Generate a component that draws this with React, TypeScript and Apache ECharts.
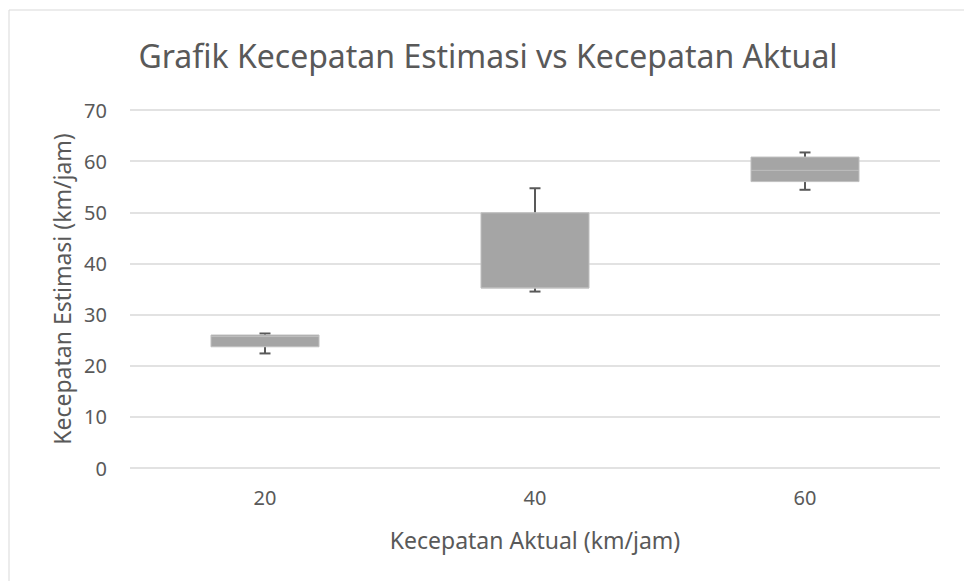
import React, { useEffect, useRef } from "react";
import * as echarts from "echarts";

const categories = ["20", "40", "60"];
// [min, Q1, median, Q3, max]
const minValues = [22.4, 34.5, 54.4];
const q1Values = [23.7, 35.2, 56.0];
const medianValues = [25.7, 35.2, 58.2];
const q3Values = [26.0, 49.9, 60.8];
const maxValues = [26.3, 54.7, 61.7];
const yTicks = { min: 0, max: 70, interval: 10 };

const TEXT = "#595959";
const FONT = "'Noto Sans', 'Open Sans', sans-serif";

export default function App() {
  const ref = useRef<HTMLDivElement>(null);
  useEffect(() => {
    if (!ref.current) return;
    const chart = echarts.init(ref.current, undefined, { renderer: "svg" });
    const data = categories.map((_, i) => [
      i,
      minValues[i],
      q1Values[i],
      medianValues[i],
      q3Values[i],
      maxValues[i],
    ]);
    const renderItem = (params: any, api: any) => {
      const idx = api.value(0);
      const pMin = api.coord([idx, api.value(1)]);
      const pQ1 = api.coord([idx, api.value(2)]);
      const pMed = api.coord([idx, api.value(3)]);
      const pQ3 = api.coord([idx, api.value(4)]);
      const pMax = api.coord([idx, api.value(5)]);
      const band = api.size([1, 0])[0];
      const w = band * 0.4;
      const cx = pQ1[0];
      const cap = 5.5;
      const whisker = { stroke: "#595959", lineWidth: 2 };
      return {
        type: "group",
        children: [
          {
            type: "line",
            shape: { x1: cx, y1: pQ3[1], x2: cx, y2: pMax[1] },
            style: whisker,
          },
          {
            type: "line",
            shape: { x1: cx - cap, y1: pMax[1], x2: cx + cap, y2: pMax[1] },
            style: whisker,
          },
          {
            type: "line",
            shape: { x1: cx, y1: pQ1[1], x2: cx, y2: pMin[1] },
            style: whisker,
          },
          {
            type: "line",
            shape: { x1: cx - cap, y1: pMin[1], x2: cx + cap, y2: pMin[1] },
            style: whisker,
          },
          {
            type: "rect",
            shape: { x: cx - w / 2, y: pQ3[1], width: w, height: pQ1[1] - pQ3[1] },
            style: { fill: "#a5a5a5", stroke: "#bfbfbf", lineWidth: 1 },
          },
          {
            type: "line",
            shape: { x1: cx - w / 2, y1: pMed[1], x2: cx + w / 2, y2: pMed[1] },
            style: { stroke: "#bfbfbf", lineWidth: 1 },
          },
        ],
      };
    };
    chart.setOption({
      animation: false,
      backgroundColor: "#ffffff",
      grid: { left: 130, right: 24, top: 110, bottom: 113 },
      graphic: [
        {
          type: "rect",
          shape: { x: 9, y: 10, width: 1000, height: 600 },
          style: { fill: "none", stroke: "#d9d9d9", lineWidth: 1 },
          silent: true,
        },
        {
          type: "text",
          x: 488,
          y: 55,
          style: {
            text: "Grafik Kecepatan Estimasi vs Kecepatan Aktual",
            fill: TEXT,
            font: `32px ${FONT}`,
            textAlign: "center",
            textVerticalAlign: "middle",
          },
        },
      ],
      xAxis: {
        type: "category",
        data: categories,
        axisLine: { show: false },
        axisTick: { show: false },
        axisLabel: { color: TEXT, fontFamily: FONT, fontSize: 20, margin: 19 },
        name: "Kecepatan Aktual (km/jam)",
        nameLocation: "middle",
        nameGap: 60,
        nameTextStyle: { color: TEXT, fontFamily: FONT, fontSize: 23 },
      },
      yAxis: {
        type: "value",
        min: yTicks.min,
        max: yTicks.max,
        interval: yTicks.interval,
        axisLine: { show: false },
        axisTick: { show: false },
        splitLine: { lineStyle: { color: "#d9d9d9", width: 1.5 } },
        axisLabel: { color: TEXT, fontFamily: FONT, fontSize: 20, margin: 23 },
        name: "Kecepatan Estimasi (km/jam)",
        nameLocation: "middle",
        nameGap: 56,
        nameTextStyle: { color: TEXT, fontFamily: FONT, fontSize: 23 },
      },
      series: [
        {
          type: "custom",
          renderItem,
          encode: { x: 0, y: [1, 2, 3, 4, 5] },
          data,
        },
      ],
    });
    return () => chart.dispose();
  }, []);
  return (
    <div
      ref={ref}
      style={{ position: "fixed", left: 0, top: 0, width: 964, height: 581 }}
    />
  );
}
